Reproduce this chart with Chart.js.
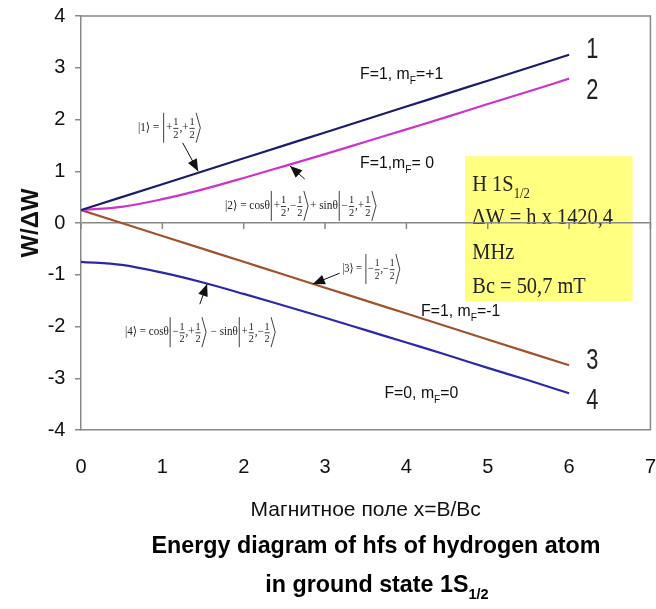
<!DOCTYPE html>
<html>
<head>
<meta charset="utf-8">
<script src="https://cdn.jsdelivr.net/npm/chart.js@4.4.1/dist/chart.umd.min.js"></script>
<style>
  html, body { margin: 0; padding: 0; background: #fff; }
  #wrap { width: 656px; height: 609px; }
</style>
</head>
<body>
<div id="wrap"><canvas id="chart"></canvas></div>
<script>
// x = B/Bc
const xValues = [0, 0.5, 1, 1.5, 2, 2.5, 3, 3.5, 4, 4.5, 5, 5.5, 6];
// W/dW for the four levels
const level1 = [0.25, 0.5, 0.75, 1.0, 1.25, 1.5, 1.75, 2.0, 2.25, 2.5, 2.75, 3.0, 3.25];
const level2 = [0.25, 0.31, 0.46, 0.65, 0.87, 1.1, 1.33, 1.57, 1.81, 2.05, 2.3, 2.54, 2.79];
const level3 = [0.25, 0.0, -0.25, -0.5, -0.75, -1.0, -1.25, -1.5, -1.75, -2.0, -2.25, -2.5, -2.75];
const level4 = [-0.75, -0.81, -0.96, -1.15, -1.37, -1.6, -1.83, -2.07, -2.31, -2.55, -2.8, -3.04, -3.29];
const xTicks = [0, 1, 2, 3, 4, 5, 6, 7];
const yTicks = [-4, -3, -2, -1, 0, 1, 2, 3, 4];

const SANS = "'Liberation Sans', Arial, sans-serif";
const SERIF = "'Liberation Serif', 'DejaVu Serif', serif";
Chart.defaults.font.family = SANS;
Chart.defaults.color = '#111';

function pts(vals) {
  return xValues.map((x, i) => ({ x: x, y: vals[i] }));
}

// text with subscripts: parts = [[text, isSub], ...]
function richText(ctx, parts, x, y, fam, size, subSize, weight, sx, align) {
  ctx.save();
  ctx.textBaseline = 'alphabetic';
  ctx.textAlign = 'left';
  const fonts = [weight + ' ' + size + 'px ' + fam, weight + ' ' + subSize + 'px ' + fam];
  let w = 0;
  const ws = parts.map(p => { ctx.font = fonts[p[1]]; const m = ctx.measureText(p[0]).width; w += m; return m; });
  ctx.translate(x, y);
  ctx.scale(sx, 1);
  let cx = align === 'center' ? -w / 2 : 0;
  parts.forEach((p, i) => {
    ctx.font = fonts[p[1]];
    ctx.fillText(p[0], cx, p[1] ? size * 0.28 : 0);
    cx += ws[i];
  });
  ctx.restore();
}

// small ket formula: strings, '|' tall bar, '>' tall bracket, [n, d] fraction
function drawKet(ctx, toks, x, cy, targetW) {
  const fs = 12, h = 15;
  ctx.save();
  const main = fs + 'px ' + SERIF, small = (fs - 1) + 'px ' + SERIF;
  const widths = toks.map(t => {
    if (t === '|') return 4;
    if (t === '>') return 7;
    if (Array.isArray(t)) { ctx.font = small; return ctx.measureText('1').width + 2; }
    ctx.font = main; return ctx.measureText(t).width;
  });
  const total = widths.reduce((a, b) => a + b, 0);
  ctx.translate(x, cy);
  ctx.scale(targetW / total, 1);
  ctx.fillStyle = '#222';
  ctx.strokeStyle = '#222';
  ctx.lineWidth = 0.9;
  let cx = 0;
  toks.forEach((t, i) => {
    const w = widths[i];
    if (t === '|') {
      ctx.beginPath(); ctx.moveTo(cx + 1.5, -h); ctx.lineTo(cx + 1.5, h); ctx.stroke();
    } else if (t === '>') {
      ctx.beginPath(); ctx.moveTo(cx + 0.5, -h); ctx.lineTo(cx + 5, 0); ctx.lineTo(cx + 0.5, h); ctx.stroke();
    } else if (Array.isArray(t)) {
      ctx.font = small; ctx.textAlign = 'center';
      ctx.textBaseline = 'bottom'; ctx.fillText(t[0], cx + w / 2, 0);
      ctx.textBaseline = 'top'; ctx.fillText(t[1], cx + w / 2, 1.5);
      ctx.beginPath(); ctx.moveTo(cx + 1, 0.6); ctx.lineTo(cx + w - 1, 0.6); ctx.stroke();
    } else {
      ctx.font = main; ctx.textAlign = 'left'; ctx.textBaseline = 'middle';
      ctx.fillText(t, cx, 0);
    }
    cx += w;
  });
  ctx.restore();
}

function arrow(ctx, x1, y1, x2, y2) {
  const a = Math.atan2(y2 - y1, x2 - x1), L = 12, W = 5;
  ctx.save();
  ctx.strokeStyle = '#111'; ctx.fillStyle = '#111'; ctx.lineWidth = 1;
  ctx.beginPath(); ctx.moveTo(x1, y1); ctx.lineTo(x2, y2); ctx.stroke();
  ctx.beginPath();
  ctx.moveTo(x2, y2);
  ctx.lineTo(x2 - L * Math.cos(a) + W * Math.sin(a), y2 - L * Math.sin(a) - W * Math.cos(a));
  ctx.lineTo(x2 - L * Math.cos(a) - W * Math.sin(a), y2 - L * Math.sin(a) + W * Math.cos(a));
  ctx.closePath(); ctx.fill();
  ctx.restore();
}

const half = ['1', '2'];
const kets = [
  { x0: 0.70, x1: 1.49, y: 1.84, toks: ['|1⟩ = ', '|', '+', half, ',+', half, '>'] },
  { x0: 1.77, x1: 3.65, y: 0.33, toks: ['|2⟩ = cosθ', '|', '+', half, ',−', half, '>', '+ sinθ', '|', '−', half, ',+', half, '>'] },
  { x0: 3.21, x1: 3.94, y: -0.89, toks: ['|3⟩ = ', '|', '−', half, ',−', half, '>'] },
  { x0: 0.54, x1: 2.41, y: -2.11, toks: ['|4⟩ = cosθ', '|', '−', half, ',+', half, '>', ' − sinθ', '|', '+', half, ',−', half, '>'] }
];
const arrows = [
  [1.25, 1.55, 1.44, 1.00],
  [2.75, 0.85, 2.57, 1.10],
  [3.18, -0.97, 2.85, -1.18],
  [1.46, -1.57, 1.55, -1.18]
];
const stateLabels = [
  { x: 3.43, y: 2.78, parts: [['F=1, m', 0], ['F', 1], ['=+1', 0]] },
  { x: 3.43, y: 1.06, parts: [['F=1,m', 0], ['F', 1], ['= 0', 0]] },
  { x: 4.18, y: -1.80, parts: [['F=1, m', 0], ['F', 1], ['=-1', 0]] },
  { x: 3.73, y: -3.38, parts: [['F=0, m', 0], ['F', 1], ['=0', 0]] }
];
const lineNumbers = [['1', 3.19], ['2', 2.40], ['3', -2.82], ['4', -3.59]];
const infoLines = [
  [[['H 1S', 0], ['1/2', 1]], 0.62],
  [[['ΔW = h x 1420,4', 0]], -0.02],
  [[['MHz', 0]], -0.70],
  [[['Bc = 50,7 mT', 0]], -1.35]
];

const deco = {
  id: 'deco',
  beforeDraw(chart) {
    const { ctx, scales: { x, y } } = chart;
    ctx.save();
    ctx.fillStyle = '#fff';
    ctx.fillRect(0, 0, chart.width, chart.height);
    const bx = x.getPixelForValue(4.72), by = y.getPixelForValue(1.29);
    ctx.fillStyle = '#ffff80';
    ctx.fillRect(bx, by, x.getPixelForValue(6.78) - bx, y.getPixelForValue(-1.51) - by);
    ctx.fillStyle = '#222';
    infoLines.forEach(l => richText(ctx, l[0], x.getPixelForValue(4.81), y.getPixelForValue(l[1]), SERIF, 24, 15, 'normal', 0.85, 'left'));
    ctx.restore();
  },
  beforeDatasetsDraw(chart) {
    const { ctx, chartArea: a, scales: { x, y } } = chart;
    ctx.save();
    ctx.strokeStyle = '#888'; ctx.lineWidth = 1.5;
    ctx.beginPath(); ctx.moveTo(a.left, a.top); ctx.lineTo(a.right, a.top); ctx.lineTo(a.right, a.bottom); ctx.stroke();
    // tick marks on the zero line
    const y0 = y.getPixelForValue(0);
    ctx.beginPath();
    x.ticks.forEach(t => { const px = x.getPixelForValue(t.value); ctx.moveTo(px, y0); ctx.lineTo(px, y0 + 6); });
    ctx.stroke();
    ctx.restore();
  },
  afterDraw(chart) {
    const { ctx, scales: { x, y } } = chart;
    ctx.save();
    ctx.fillStyle = '#111';
    stateLabels.forEach(s => richText(ctx, s.parts, x.getPixelForValue(s.x), y.getPixelForValue(s.y), SANS, 17, 11, 'normal', 0.93, 'left'));
    ctx.fillStyle = '#222';
    lineNumbers.forEach(n => richText(ctx, [[n[0], 0]], x.getPixelForValue(6.21), y.getPixelForValue(n[1]), SANS, 29, 15, 'normal', 0.75, 'left'));
    kets.forEach(k => drawKet(ctx, k.toks, x.getPixelForValue(k.x0), y.getPixelForValue(k.y), x.getPixelForValue(k.x1) - x.getPixelForValue(k.x0)));
    arrows.forEach(a => arrow(ctx, x.getPixelForValue(a[0]), y.getPixelForValue(a[1]), x.getPixelForValue(a[2]), y.getPixelForValue(a[3])));
    ctx.fillStyle = '#000';
    richText(ctx, [['Energy diagram of hfs of hydrogen atom', 0]], 376, 553, SANS, 24, 15, 'bold', 0.97, 'center');
    richText(ctx, [['in ground state 1S', 0], ['1/2', 1]], 377, 592, SANS, 24, 15, 'bold', 0.97, 'center');
    ctx.restore();
  }
};

function lineSet(label, vals, color) {
  return {
    label: label,
    data: pts(vals),
    borderColor: color,
    backgroundColor: color,
    borderWidth: 2.2,
    pointRadius: 0,
    cubicInterpolationMode: 'monotone',
    fill: false
  };
}

new Chart(document.getElementById('chart'), {
  type: 'line',
  data: {
    datasets: [
      lineSet('1', level1, '#1c1c6e'),
      lineSet('2', level2, '#cc33cc'),
      lineSet('3', level3, '#a0522d'),
      lineSet('4', level4, '#2a2aa8')
    ]
  },
  options: {
    responsive: true,
    maintainAspectRatio: false,
    animation: false,
    layout: { padding: { top: 15, right: 5, left: 0, bottom: 86 } },
    plugins: { legend: { display: false }, tooltip: { enabled: false } },
    scales: {
      x: {
        type: 'linear',
        min: 0,
        max: 7,
        afterBuildTicks: s => { s.ticks = xTicks.map(v => ({ value: v })); },
        afterFit: s => { s.height = 93; },
        grid: { display: true, drawOnChartArea: false, drawTicks: true, tickLength: 25, tickColor: 'rgba(0,0,0,0)' },
        border: { display: true, color: '#888', width: 1.5 },
        ticks: { padding: 0, font: { size: 20 } },
        title: { display: true, text: 'Магнитное поле x=B/Bc', font: { size: 21 }, padding: { top: 19, bottom: 0 } }
      },
      y: {
        min: -4,
        max: 4,
        afterBuildTicks: s => { s.ticks = yTicks.map(v => ({ value: v })); },
        afterFit: s => { s.width = 81; },
        grid: {
          drawOnChartArea: true,
          drawTicks: true,
          tickLength: 6,
          tickColor: '#888',
          color: c => (c.tick && c.tick.value === 0 ? '#888' : 'rgba(0,0,0,0)'),
          lineWidth: 1.5
        },
        border: { display: true, color: '#888', width: 1.5 },
        ticks: { padding: 4, font: { size: 20 }, callback: v => v + ' ' },
        title: { display: true, text: 'W/ΔW', font: { size: 24, weight: 'bold' }, padding: { top: 17, bottom: 0 } }
      }
    }
  },
  plugins: [deco]
});
</script>
</body>
</html>
